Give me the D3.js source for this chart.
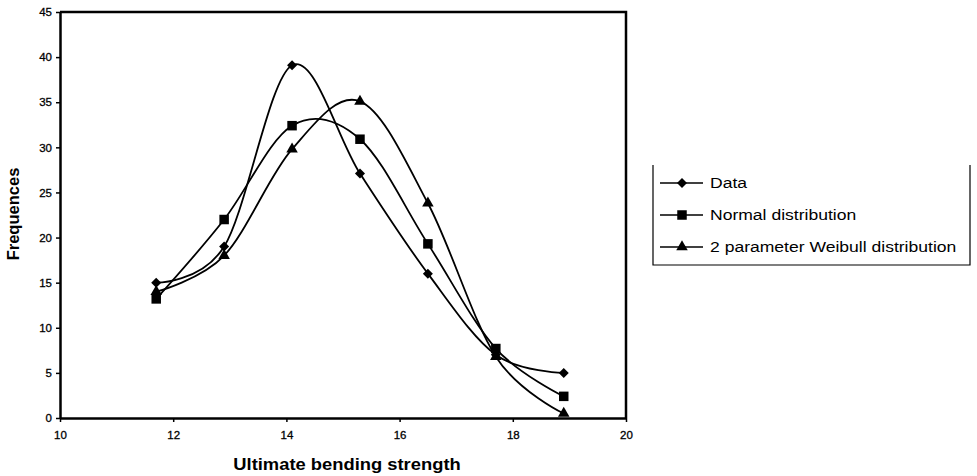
<!DOCTYPE html>
<html lang="en">
  <head>
    <meta charset="UTF-8" />
    <title>Ultimate bending strength frequencies</title>
    <script src="https://d3js.org/d3.v7.min.js"></script>
    <style>
      body {
        margin: 0;
        background: white;
        font-family: 'Liberation Sans', Arial, sans-serif;
      }
      svg {
        display: block;
      }
    </style>
  </head>
  <body>
    <svg width="977" height="476"></svg>

    <script>
      // bin centres and frequencies
      const strength = [11.7, 12.9, 14.1, 15.3, 16.5, 17.7, 18.9];
      const dataFreq = [15, 19, 39.1, 27.1, 16, 7, 5];
      const normalFreq = [13.2, 22, 32.4, 30.9, 19.3, 7.7, 2.4];
      const weibullFreq = [14, 18, 29.8, 35.1, 23.8, 6.8, 0.5];
      const seriesNames = ['Data', 'Normal distribution', '2 parameter Weibull distribution'];
      const xTicks = [10, 12, 14, 16, 18, 20];
      const yTicks = [0, 5, 10, 15, 20, 25, 30, 35, 40, 45];

      const series = [
        { name: seriesNames[0], values: dataFreq, symbol: d3.symbolDiamond2, size: 64 },
        { name: seriesNames[1], values: normalFreq, symbol: d3.symbolSquare2, size: 115 },
        { name: seriesNames[2], values: weibullFreq, symbol: d3.symbolTriangle2, size: 95 },
      ];

      const margin = { top: 12, left: 60 },
        width = 566,
        height = 406;

      const svg = d3.select('svg');
      const g = svg
        .append('g')
        .attr('transform', `translate(${margin.left},${margin.top})`);

      const x = d3.scaleLinear().domain([10, 20]).range([0, width]);
      const y = d3.scaleLinear().domain([0, 45]).range([height, 0]);

      // axes
      const xAxis = g
        .append('g')
        .attr('transform', `translate(0,${height})`)
        .call(d3.axisBottom(x).tickValues(xTicks).tickSize(4).tickSizeOuter(0));
      const yAxis = g
        .append('g')
        .call(d3.axisLeft(y).tickValues(yTicks).tickSize(4).tickSizeOuter(0));

      [xAxis, yAxis].forEach((a) => {
        a.select('.domain').attr('stroke', '#000').attr('stroke-width', 2.5);
        a.selectAll('.tick line').attr('stroke', '#000').attr('stroke-width', 1.5);
        a.selectAll('.tick text')
          .attr('font-family', "'Liberation Sans', Arial, sans-serif")
          .attr('font-size', 11.5)
          .attr('fill', '#000')
          .attr('stroke', '#000')
          .attr('stroke-width', 0.3);
      });
      xAxis.selectAll('.tick text').attr('dy', '1.2em');
      yAxis.selectAll('.tick text').attr('x', -8);

      // top and right frame
      g.append('path')
        .attr('d', `M0,0H${width}V${height}`)
        .attr('fill', 'none')
        .attr('stroke', '#000')
        .attr('stroke-width', 2.5);

      const line = d3
        .line()
        .x((d, i) => x(strength[i]))
        .y((d) => y(d))
        .curve(d3.curveCatmullRom.alpha(0));

      series.forEach((s) => {
        g.append('path')
          .datum(s.values)
          .attr('fill', 'none')
          .attr('stroke', '#000')
          .attr('stroke-width', 1.8)
          .attr('d', line);

        g.selectAll(null)
          .data(s.values)
          .join('path')
          .attr('transform', (d, i) => `translate(${x(strength[i])},${y(d)})`)
          .attr('d', d3.symbol().type(s.symbol).size(s.size))
          .attr('fill', '#000');
      });

      // axis titles
      svg
        .append('text')
        .attr('transform', `translate(${margin.left + width / 2 + 4},470) scale(1.08,1)`)
        .attr('text-anchor', 'middle')
        .attr('font-weight', 'bold')
        .attr('font-size', 17)
        .text('Ultimate bending strength');

      svg
        .append('text')
        .attr('transform', 'translate(19,214) rotate(-90)')
        .attr('text-anchor', 'middle')
        .attr('font-weight', 'bold')
        .attr('font-size', 16.5)
        .text('Frequences');

      // legend
      const legend = svg.append('g').attr('transform', 'translate(653,165)');
      legend
        .append('path')
        .attr('d', 'M0,0V100H317V0')
        .attr('fill', 'none')
        .attr('stroke', '#000')
        .attr('stroke-width', 1.2);

      series.forEach((s, i) => {
        const row = legend.append('g').attr('transform', `translate(0,${18 + i * 32})`);
        row.append('line')
          .attr('x1', 7)
          .attr('x2', 50)
          .attr('stroke', '#000')
          .attr('stroke-width', 1.5);
        row.append('path')
          .attr('transform', 'translate(29,0)')
          .attr('d', d3.symbol().type(s.symbol).size(s.size))
          .attr('fill', '#000');
        row.append('text')
          .attr('transform', 'translate(57,0) scale(1.17,1)')
          .attr('dy', '0.35em')
          .attr('font-size', 15)
          .text(s.name);
      });
    </script>
  </body>
</html>
